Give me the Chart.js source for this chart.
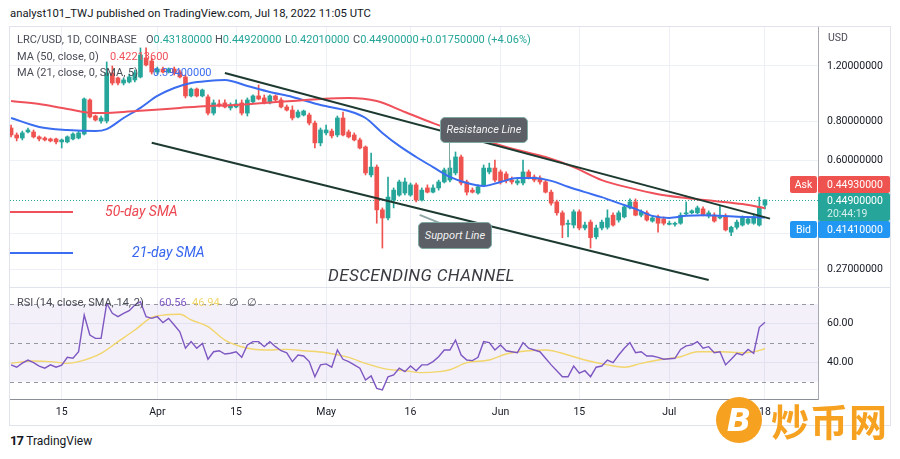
<!DOCTYPE html>
<html>
<head>
<meta charset="utf-8">
<script src="https://cdn.jsdelivr.net/npm/chart.js@4.4.0/dist/chart.umd.min.js"></script>
<style>
  body { margin: 0; width: 900px; height: 459px; overflow: hidden; position: relative; background: #fff; font-family: Roboto, "Noto Sans", sans-serif; }
  canvas { position: absolute; left: 0; }
  #priceChart { top: 27px; }
  #rsiChart { top: 287px; }
  .abs { position: absolute; white-space: nowrap; }
  #title { left: 10px; top: 6px; font-size: 11.3px; line-height: 16px; color: #131722; }
  #frame { left: 9px; top: 26px; width: 882px; height: 400px; border: 1px solid #e0e3eb; box-sizing: border-box; }
  .sep { left: 9px; width: 882px; height: 1px; background: #e0e3eb; }
  .lg { font-size: 11px; line-height: 14px; color: #4a4d57; }
  .up { color: #26a69a; }
  .tag { color: #fff; font-size: 10.5px; line-height: 17px; height: 17px; border-radius: 2px; }
  .box { background: #5c5f66; border: 1px solid #7fa9a3; border-radius: 5px; color: #f2f2f2; font-style: italic; font-size: 11px; text-align: center; box-sizing: border-box; }
  .note { font-style: italic; font-size: 14px; line-height: 18px; }
</style>
</head>
<body>
<div id="title" class="abs">analyst101_TWJ published on TradingView.com, Jul 18, 2022 11:05 UTC</div>
<canvas id="priceChart" width="900" height="260"></canvas>
<canvas id="rsiChart" width="900" height="140"></canvas>
<div class="abs sep" style="top:287px"></div>
<div id="frame" class="abs"></div>

<!-- legend -->
<div class="abs lg" style="left:17px;top:33px">LRC/USD, 1D, COINBASE</div>
<div class="abs lg" style="left:146px;top:33px">O<span class="up">0.43180000</span></div>
<div class="abs lg" style="left:215px;top:33px">H<span class="up">0.44920000</span></div>
<div class="abs lg" style="left:285px;top:33px">L<span class="up">0.42010000</span></div>
<div class="abs lg" style="left:353px;top:33px">C<span class="up">0.44900000</span></div>
<div class="abs lg up" style="left:420px;top:33px">+0.01750000 (+4.06%)</div>
<div class="abs lg" style="left:17px;top:50px">MA (50, close, 0)</div>
<div class="abs lg" style="left:110px;top:50px;color:#f0505a">0.42213600</div>
<div class="abs lg" style="left:17px;top:66px">MA (21, close, 0, SMA, 5)</div>
<div class="abs lg" style="left:153px;top:66px;color:#3a6df0">0.39400000</div>

<div class="abs lg" style="left:17px;top:296px">RSI (14, close, SMA, 14, 2)</div>
<div class="abs lg" style="left:159px;top:296px;color:#7e57c2">60.56</div>
<div class="abs lg" style="left:192px;top:296px;color:#f2d56b">46.94</div>
<div class="abs lg" style="left:229px;top:296px">∅</div>
<div class="abs lg" style="left:247px;top:296px">∅</div>

<!-- drawings -->
<div class="abs" style="left:10px;top:211px;width:63px;height:2px;background:#f0505a"></div>
<div class="abs note" style="left:105px;top:202px;color:#ec4650">50-day SMA</div>
<div class="abs" style="left:10px;top:252px;width:63px;height:2px;background:#3a6df0"></div>
<div class="abs note" style="left:132px;top:243px;color:#3565ee">21-day SMA</div>

<div class="abs" style="left:449px;top:142px;width:1px;height:30px;background:#7fa9a3"></div>
<div class="abs box" style="left:440px;top:117px;width:88px;height:26px;line-height:24px">Resistance Line</div>
<div class="abs" style="left:420px;top:214px;width:30px;height:2px;background:#8fa8a6;transform:rotate(22deg);transform-origin:0 0"></div>
<div class="abs box" style="left:418px;top:222px;width:74px;height:27px;line-height:25px">Support Line</div>
<div class="abs" style="left:328px;top:265px;font-style:italic;font-size:17px;color:#3a3c42;letter-spacing:0.4px">DESCENDING CHANNEL</div>

<!-- price axis tags -->
<div class="abs lg" style="left:828px;top:31px;font-size:10.5px">USD</div>
<div class="abs tag" style="left:790px;top:176px;width:27px;background:#ef5350;text-align:center">Ask</div>
<div class="abs tag" style="left:818px;top:176px;width:72px;background:#ef5350;padding-left:9px;box-sizing:border-box">0.44930000</div>
<div class="abs tag" style="left:818px;top:193px;width:72px;height:28px;background:#26a69a;padding-left:9px;box-sizing:border-box;line-height:13px;padding-top:1px">0.44900000<br><span style="color:#d4efec">20:44:19</span></div>
<div class="abs tag" style="left:790px;top:221px;width:27px;background:#2196f3;text-align:center">Bid</div>
<div class="abs tag" style="left:818px;top:221px;width:72px;background:#2196f3;padding-left:9px;box-sizing:border-box">0.41410000</div>

<!-- footer -->
<div class="abs" style="left:10px;top:433px;font-size:13px;line-height:16px;color:#131722"><b style="letter-spacing:-1px">17</b> <span style="font-size:12px">TradingView</span></div>
<div class="abs" style="left:716px;top:397px;width:46px;height:46px;border-radius:50%;background:#f6a11f;color:#fff;font:bold italic 32px 'DejaVu Sans';text-align:center;line-height:46px">B</div>
<div class="abs" style="left:771px;top:394px;font:bold 38px 'Noto Sans CJK SC';color:#f6a11f;letter-spacing:1px;line-height:52px">炒币网</div>

<script>
// LRC/USD daily candles, 6 Mar (day 0) .. 18 Jul 2022 (day 134)
const opens = [
  0.761,0.723,0.707,0.739,0.739,0.713,0.707,0.702,0.702,0.687,
  0.687,0.702,0.707,0.728,0.935,0.831,0.801,0.801,1.140,1.099,
  1.059,1.067,1.083,1.107,1.273,1.245,1.148,1.174,1.148,1.174,
  1.148,1.107,0.963,1.013,0.963,0.956,0.849,0.908,0.915,0.882,
  0.888,0.915,0.849,0.922,0.963,0.949,0.915,0.963,0.935,0.888,
  0.868,0.825,0.837,0.837,0.789,0.682,0.734,0.744,0.723,0.819,
  0.739,0.723,0.697,0.662,0.539,0.571,0.417,0.393,0.448,0.465,
  0.472,0.465,0.501,0.448,0.490,0.475,0.490,0.512,0.519,0.547,
  0.615,0.512,0.482,0.472,0.501,0.551,0.567,0.551,0.543,0.519,
  0.508,0.508,0.551,0.531,0.527,0.512,0.475,0.442,0.408,0.375,
  0.373,0.411,0.365,0.381,0.342,0.365,0.367,0.401,0.387,0.396,
  0.423,0.442,0.401,0.408,0.384,0.396,0.390,0.375,0.375,0.378,
  0.405,0.408,0.408,0.420,0.399,0.401,0.393,0.396,0.354,0.367,
  0.373,0.378,0.378,0.373,0.4318
];
const highs = [
  0.778,0.734,0.744,0.761,0.750,0.718,0.713,0.707,0.707,0.702,
  0.718,0.734,0.744,0.949,0.942,0.837,0.831,1.236,1.200,1.107,
  1.099,1.131,1.165,1.370,1.370,1.273,1.191,1.191,1.183,1.191,
  1.165,1.123,1.021,1.021,1.013,0.970,0.935,0.935,0.935,0.915,
  0.935,0.935,0.949,0.970,1.044,0.970,0.970,0.970,0.949,0.901,
  0.895,0.868,0.868,0.849,0.801,0.761,0.778,0.755,0.831,0.856,
  0.750,0.734,0.707,0.667,0.633,0.580,0.423,0.531,0.490,0.519,
  0.527,0.508,0.508,0.490,0.501,0.501,0.519,0.567,0.601,0.638,
  0.624,0.519,0.490,0.501,0.580,0.588,0.601,0.559,0.551,0.531,
  0.527,0.601,0.559,0.539,0.535,0.519,0.482,0.448,0.414,0.387,
  0.417,0.417,0.381,0.387,0.373,0.387,0.417,0.408,0.414,0.432,
  0.452,0.452,0.417,0.414,0.399,0.401,0.396,0.384,0.381,0.408,
  0.442,0.417,0.429,0.426,0.414,0.408,0.429,0.405,0.370,0.387,
  0.399,0.396,0.405,0.458,0.4492
];
const lows = [
  0.713,0.692,0.697,0.734,0.707,0.692,0.692,0.687,0.677,0.657,
  0.682,0.697,0.702,0.723,0.819,0.801,0.789,0.789,1.044,1.044,
  1.044,1.059,1.067,1.099,1.200,1.131,1.131,1.140,1.140,1.123,
  1.099,0.949,0.956,0.956,0.956,0.837,0.837,0.888,0.882,0.868,
  0.882,0.837,0.831,0.915,0.935,0.908,0.908,0.928,0.882,0.862,
  0.807,0.819,0.831,0.778,0.657,0.667,0.723,0.707,0.713,0.718,
  0.707,0.692,0.652,0.539,0.531,0.378,0.315,0.387,0.423,0.461,
  0.465,0.461,0.442,0.445,0.472,0.472,0.482,0.508,0.512,0.539,
  0.501,0.465,0.472,0.468,0.494,0.543,0.512,0.504,0.508,0.504,
  0.501,0.501,0.523,0.512,0.504,0.472,0.432,0.401,0.340,0.342,
  0.365,0.360,0.360,0.315,0.337,0.360,0.362,0.370,0.381,0.393,
  0.420,0.399,0.396,0.384,0.381,0.354,0.373,0.373,0.370,0.375,
  0.399,0.405,0.405,0.399,0.393,0.381,0.390,0.357,0.345,0.362,
  0.370,0.375,0.375,0.370,0.4201
];
const closes = [
  0.723,0.707,0.734,0.750,0.713,0.702,0.697,0.692,0.687,0.697,
  0.713,0.728,0.734,0.942,0.825,0.807,0.819,1.140,1.059,1.059,
  1.083,1.107,1.140,1.301,1.209,1.148,1.174,1.148,1.174,1.140,
  1.107,0.963,1.013,0.963,1.006,0.849,0.915,0.895,0.888,0.901,
  0.908,0.849,0.935,0.963,0.942,0.915,0.963,0.935,0.888,0.868,
  0.819,0.856,0.862,0.789,0.682,0.750,0.750,0.718,0.819,0.723,
  0.713,0.697,0.657,0.547,0.571,0.417,0.393,0.458,0.482,0.512,
  0.512,0.501,0.448,0.482,0.475,0.490,0.512,0.559,0.567,0.615,
  0.508,0.475,0.475,0.494,0.567,0.567,0.519,0.512,0.516,0.512,
  0.516,0.551,0.531,0.519,0.512,0.475,0.438,0.408,0.373,0.378,
  0.411,0.365,0.373,0.340,0.365,0.381,0.393,0.373,0.408,0.426,
  0.442,0.401,0.411,0.387,0.393,0.378,0.378,0.378,0.378,0.401,
  0.408,0.414,0.423,0.401,0.408,0.384,0.396,0.360,0.367,0.381,
  0.393,0.390,0.396,0.426,0.449
];

// moving averages read at sample days
const ma50Day = [0,5,10,15,20,25,30,35,40,45,50,55,60,65,70,75,80,85,90,95,100,105,110,115,120,125,130,134];
const ma50Val = [0.928,0.908,0.875,0.849,0.856,0.868,0.882,0.895,0.901,0.915,0.928,0.942,0.949,0.928,0.856,0.789,0.734,0.687,0.647,0.615,0.571,0.519,0.490,0.468,0.455,0.445,0.435,0.4221];
const ma21Day = [0,5,10,15,17,20,23,26,29,32,35,38,42,46,50,55,60,63,66,69,72,75,78,81,84,87,90,93,96,99,102,105,108,111,114,117,120,123,126,130,134];
const ma21Val = [0.819,0.767,0.750,0.744,0.755,0.819,0.882,0.963,1.021,1.059,1.075,1.083,1.036,0.991,0.956,0.901,0.862,0.819,0.734,0.667,0.615,0.571,0.531,0.508,0.497,0.512,0.527,0.527,0.516,0.494,0.475,0.458,0.438,0.420,0.399,0.393,0.399,0.401,0.399,0.396,0.394];

// RSI (one value per day) and its SMA
const rsiVal = [
  38.6,37.4,39.5,41.1,39.8,38.0,36.9,38.6,37.4,38.5,
  42.5,42.0,45.4,64.3,54.0,52.3,52.3,70.4,65.2,63.5,
  65.2,66.6,69.5,71.2,63.5,62.6,63.5,60.4,62.6,59.2,
  55.7,47.2,50.6,47.2,49.7,41.5,45.4,45.9,44.2,44.6,
  45.4,42.5,48.9,50.6,50.6,48.0,50.6,48.0,45.9,44.8,
  40.3,43.7,43.2,40.3,32.5,38.6,39.1,37.4,46.3,41.5,
  40.3,38.6,36.9,30.8,32.9,26.5,25.7,32.5,33.4,36.9,
  35.1,38.0,35.6,38.6,38.6,40.3,42.8,46.3,46.3,51.4,
  43.7,41.1,40.8,42.5,50.6,50.1,46.3,48.9,45.9,45.4,
  44.9,50.1,47.2,46.3,45.4,42.0,38.6,35.6,32.5,32.5,
  38.0,34.3,35.6,32.5,37.4,38.0,41.1,39.8,43.7,47.2,
  50.1,44.9,45.4,43.2,43.2,42.5,41.5,41.8,42.0,46.6,
  48.4,48.9,50.6,47.2,48.0,44.9,45.4,38.6,41.5,44.6,
  43.7,46.6,44.6,58.0,60.56
];
const rsiSmaDay = [0,4,7,10,12,16,19,22,25,27,30,32,35,38,42,45,49,52,56,60,63,67,70,73,76,78,81,85,88,92,95,99,102,106,109,112,115,119,122,126,130,132,134];
const rsiSmaVal = [39.4,40.6,40.3,39.4,40.3,44.6,50.6,56.6,63.1,64.3,64.7,61.8,58.3,51.4,47.2,46.3,46.6,45.9,44.9,42.5,39.4,36.3,35.6,34.6,35.1,36.1,39.8,41.1,44.2,45.9,46.3,43.7,41.1,38.6,37.4,39.4,41.1,42.8,45.4,45.4,44.9,45.4,46.94];

// axes
const tickDays = [9, 26, 40, 56, 71, 87, 101, 117, 134];
const tickLabels = ['15', 'Apr', '15', 'May', '16', 'Jun', '15', 'Jul', '18'];
const priceTicks = [1.2, 0.8, 0.6, 0.35, 0.27];
const rsiTicks = [60, 40];
const rsiLevels = [70, 50, 30];

// channel lines drawn on the chart (day, price)
const resistanceDay = [38.0, 134.9];
const resistancePrice = [1.14, 0.391];
const supportDay = [25.0, 124.0];
const supportPrice = [0.683, 0.249];
const lastClose = 0.449;

const GREEN = '#26a69a';
const RED = '#ef5350';
const GRID = '#edf0f6';
const X_MIN = -0.19, X_MAX = 143.43;

Chart.defaults.font.family = 'Roboto';
Chart.defaults.animation = false;

const candleColor = ctx => closes[ctx.dataIndex] >= opens[ctx.dataIndex] ? GREEN : RED;
const xTicks = s => { s.ticks = tickDays.map(v => ({ value: v })); };
// keep the plot area exactly where the panes are: no extra room for label overflow
const noPad = s => { s.paddingTop = 0; s.paddingBottom = 0; s.paddingLeft = 0; s.paddingRight = 0; };

const channelPlugin = {
  id: 'channel',
  beforeDatasetsDraw(chart) {
    const { ctx, chartArea: a, scales: { y } } = chart;
    const py = Math.round(y.getPixelForValue(lastClose)) + 0.5;
    ctx.save();
    ctx.strokeStyle = GREEN;
    ctx.lineWidth = 1;
    ctx.setLineDash([1, 2]);
    ctx.beginPath();
    ctx.moveTo(a.left, py);
    ctx.lineTo(a.right, py);
    ctx.stroke();
    ctx.restore();
  },
  afterDatasetsDraw(chart) {
    const { ctx, scales: { x, y } } = chart;
    ctx.save();
    ctx.strokeStyle = '#1d3a30';
    ctx.lineWidth = 2;
    [[resistanceDay, resistancePrice], [supportDay, supportPrice]].forEach(([d, p]) => {
      ctx.beginPath();
      ctx.moveTo(x.getPixelForValue(d[0]), y.getPixelForValue(p[0]));
      ctx.lineTo(x.getPixelForValue(d[1]), y.getPixelForValue(p[1]));
      ctx.stroke();
    });
    ctx.restore();
  }
};

new Chart(document.getElementById('priceChart'), {
  type: 'bar',
  data: {
    datasets: [
      {
        type: 'line', label: 'MA 50', order: 0,
        data: ma50Day.map((d, i) => ({ x: d, y: ma50Val[i] })),
        borderColor: '#f0505a', borderWidth: 2, pointRadius: 0, cubicInterpolationMode: 'monotone'
      },
      {
        type: 'line', label: 'MA 21', order: 0,
        data: ma21Day.map((d, i) => ({ x: d, y: ma21Val[i] })),
        borderColor: '#3a6df0', borderWidth: 2, pointRadius: 0, cubicInterpolationMode: 'monotone'
      },
      {
        label: 'body', order: 1, grouped: false,
        data: closes.map((c, i) => ({ x: i, y: [opens[i], c] })),
        backgroundColor: candleColor, barThickness: 4, minBarLength: 1, borderWidth: 0
      },
      {
        label: 'wick', order: 2, grouped: false,
        data: closes.map((c, i) => ({ x: i, y: [lows[i], highs[i]] })),
        backgroundColor: candleColor, barThickness: 1, minBarLength: 1, borderWidth: 0
      }
    ]
  },
  options: {
    responsive: false,
    layout: { padding: { left: 10, right: 10, top: 0, bottom: 0 } },
    plugins: { legend: { display: false }, tooltip: { enabled: false } },
    scales: {
      x: {
        type: 'linear', min: X_MIN, max: X_MAX, offset: false, bounds: 'data',
        afterBuildTicks: xTicks,
        afterFit: s => { s.height = 0; noPad(s); },
        ticks: { display: false },
        grid: { color: GRID, drawTicks: false, offset: false },
        border: { display: false }
      },
      y: {
        type: 'logarithmic', position: 'right', min: 0.2366, max: 1.598, bounds: 'data',
        afterBuildTicks: s => { s.ticks = priceTicks.map(v => ({ value: v })); },
        afterFit: s => { s.width = 72; noPad(s); },
        ticks: { callback: v => Number(v).toFixed(8), color: '#131722', font: { size: 10.5 }, padding: 9 },
        grid: { color: GRID, drawTicks: false },
        border: { display: true, color: '#a6a9b2' }
      }
    }
  },
  plugins: [channelPlugin]
});

const rsiBandPlugin = {
  id: 'rsiBand',
  beforeDatasetsDraw(chart) {
    const { ctx, chartArea: a, scales: { y } } = chart;
    const top = y.getPixelForValue(rsiLevels[0]);
    const bottom = y.getPixelForValue(rsiLevels[rsiLevels.length - 1]);
    ctx.save();
    ctx.fillStyle = 'rgba(126,87,194,0.09)';
    ctx.fillRect(a.left, top, a.right - a.left, bottom - top);
    ctx.strokeStyle = '#9598a1';
    ctx.lineWidth = 1;
    ctx.setLineDash([4, 4]);
    rsiLevels.forEach(v => {
      const py = Math.round(y.getPixelForValue(v)) + 0.5;
      ctx.beginPath();
      ctx.moveTo(a.left, py);
      ctx.lineTo(a.right, py);
      ctx.stroke();
    });
    ctx.restore();
  }
};

new Chart(document.getElementById('rsiChart'), {
  type: 'line',
  data: {
    datasets: [
      {
        label: 'RSI', order: 0,
        data: rsiVal.map((v, i) => ({ x: i, y: v })),
        borderColor: '#7e57c2', borderWidth: 1.4, pointRadius: 0, tension: 0
      },
      {
        label: 'RSI SMA', order: 1,
        data: rsiSmaDay.map((d, i) => ({ x: d, y: rsiSmaVal[i] })),
        borderColor: '#f2d56b', borderWidth: 1.4, pointRadius: 0, cubicInterpolationMode: 'monotone'
      }
    ]
  },
  options: {
    responsive: false,
    layout: { padding: { left: 10, right: 10, top: 0, bottom: 0 } },
    plugins: { legend: { display: false }, tooltip: { enabled: false } },
    scales: {
      x: {
        type: 'linear', min: X_MIN, max: X_MAX, bounds: 'data',
        afterBuildTicks: xTicks,
        afterFit: s => { s.height = 28; noPad(s); },
        ticks: {
          callback: v => tickLabels[tickDays.indexOf(v)],
          color: '#131722', font: { size: 10.5 }, padding: 7, maxRotation: 0, autoSkip: false
        },
        grid: { color: GRID, drawTicks: false },
        border: { display: true, color: '#8c8f98' }
      },
      y: {
        type: 'linear', position: 'right', min: 21.0, max: 78.8,
        afterBuildTicks: s => { s.ticks = rsiTicks.map(v => ({ value: v })); },
        afterFit: s => { s.width = 72; noPad(s); },
        ticks: { callback: v => Number(v).toFixed(2), color: '#131722', font: { size: 10.5 }, padding: 9 },
        grid: { color: GRID, drawTicks: false },
        border: { display: true, color: '#a6a9b2' }
      }
    }
  },
  plugins: [rsiBandPlugin]
});
</script>
</body>
</html>
